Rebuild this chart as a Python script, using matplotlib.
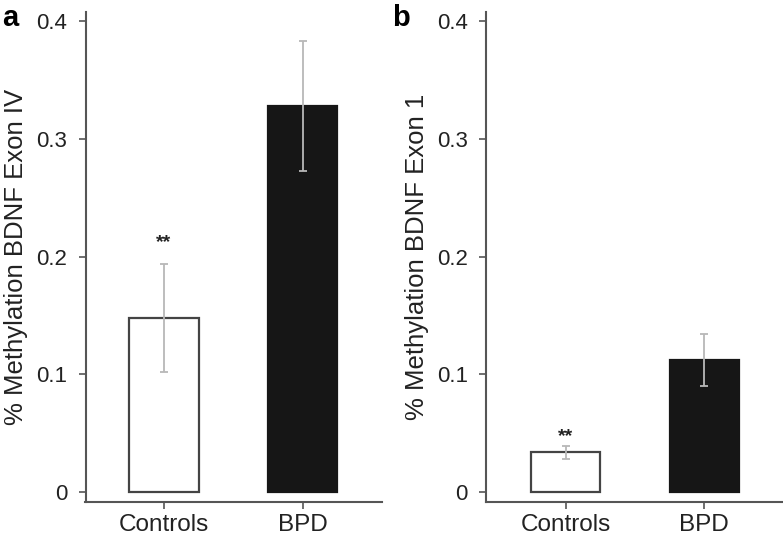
import numpy as np
import matplotlib.pyplot as plt

plt.rcParams['font.family'] = ['Liberation Sans', 'DejaVu Sans']

groups = ["Controls", "BPD"]
exon4_mean = [0.148, 0.328]
exon4_low = [0.102, 0.273]
exon4_high = [0.194, 0.383]
exon1_mean = [0.034, 0.112]
exon1_low = [0.028, 0.090]
exon1_high = [0.039, 0.134]
star_y = [0.212, 0.047]
yticks = [0, 0.1, 0.2, 0.3, 0.4]
ytick_labels = ["0", "0.1", "0.2", "0.3", "0.4"]
ylabels = ["% Methylation BDNF Exon IV", "% Methylation BDNF Exon 1"]
panels = ["a", "b"]

axis_col = "#555555"
err_col = "#b8b8b8"
W, H = 783, 539

fig = plt.figure(figsize=(W / 100, H / 100), dpi=100)
# axes boxes in pixels: left, right (top 12, bottom 501.7)
boxes = [(85.5, 382.0), (486.0, 781.7)]
xlims = [(-0.566, 1.572), (-0.576, 1.56)]
label_x = [28, 429]
letter_x = [2, 392]

data = [(exon4_mean, exon4_low, exon4_high), (exon1_mean, exon1_low, exon1_high)]

for i, (mean, low, high) in enumerate(data):
    l, r = boxes[i]
    ax = fig.add_axes([l / W, 1 - 501.7 / H, (r - l) / W, (501.7 - 12) / H])
    x = np.arange(len(groups))
    mean = np.array(mean)
    yerr = np.array([mean - np.array(low), np.array(high) - mean])
    ax.bar(x, mean, width=0.5, color=["white", "#161616"],
           edgecolor=["#444444", "#161616"], linewidth=1.6, zorder=2)
    ax.errorbar(x, mean, yerr=yerr, fmt="none", ecolor=err_col,
                elinewidth=1.3, capsize=3, capthick=1.3, zorder=3)
    ax.text(x[0], star_y[i], "**", ha="center", va="center",
            fontsize=14, fontweight="bold", color="#222222")
    ax.set_xlim(*xlims[i])
    ax.set_ylim(-0.0082, 0.4079)
    ax.set_yticks(yticks)
    ax.set_yticklabels(ytick_labels)
    ax.set_xticks(x)
    ax.set_xticklabels(groups)
    ax.tick_params(axis="y", labelsize=16, length=5, width=1.2,
                   color=axis_col, pad=8, labelcolor="#222222")
    ax.tick_params(axis="x", labelsize=17.5, length=5, width=1.2,
                   color=axis_col, pad=4, labelcolor="#222222")
    for s in ["top", "right"]:
        ax.spines[s].set_visible(False)
    for s in ["left", "bottom"]:
        ax.spines[s].set_color(axis_col)
        ax.spines[s].set_linewidth(1.5)
    ax.set_ylabel(ylabels[i], fontsize=18.5, color="#222222")
    ax.yaxis.set_label_coords((label_x[i] - l) / (r - l), 0.5)
    fig.text(letter_x[i] / W, 1 - 18 / H, panels[i], fontsize=21,
             fontweight="bold", va="center")

fig.savefig("out.png", dpi=100)
